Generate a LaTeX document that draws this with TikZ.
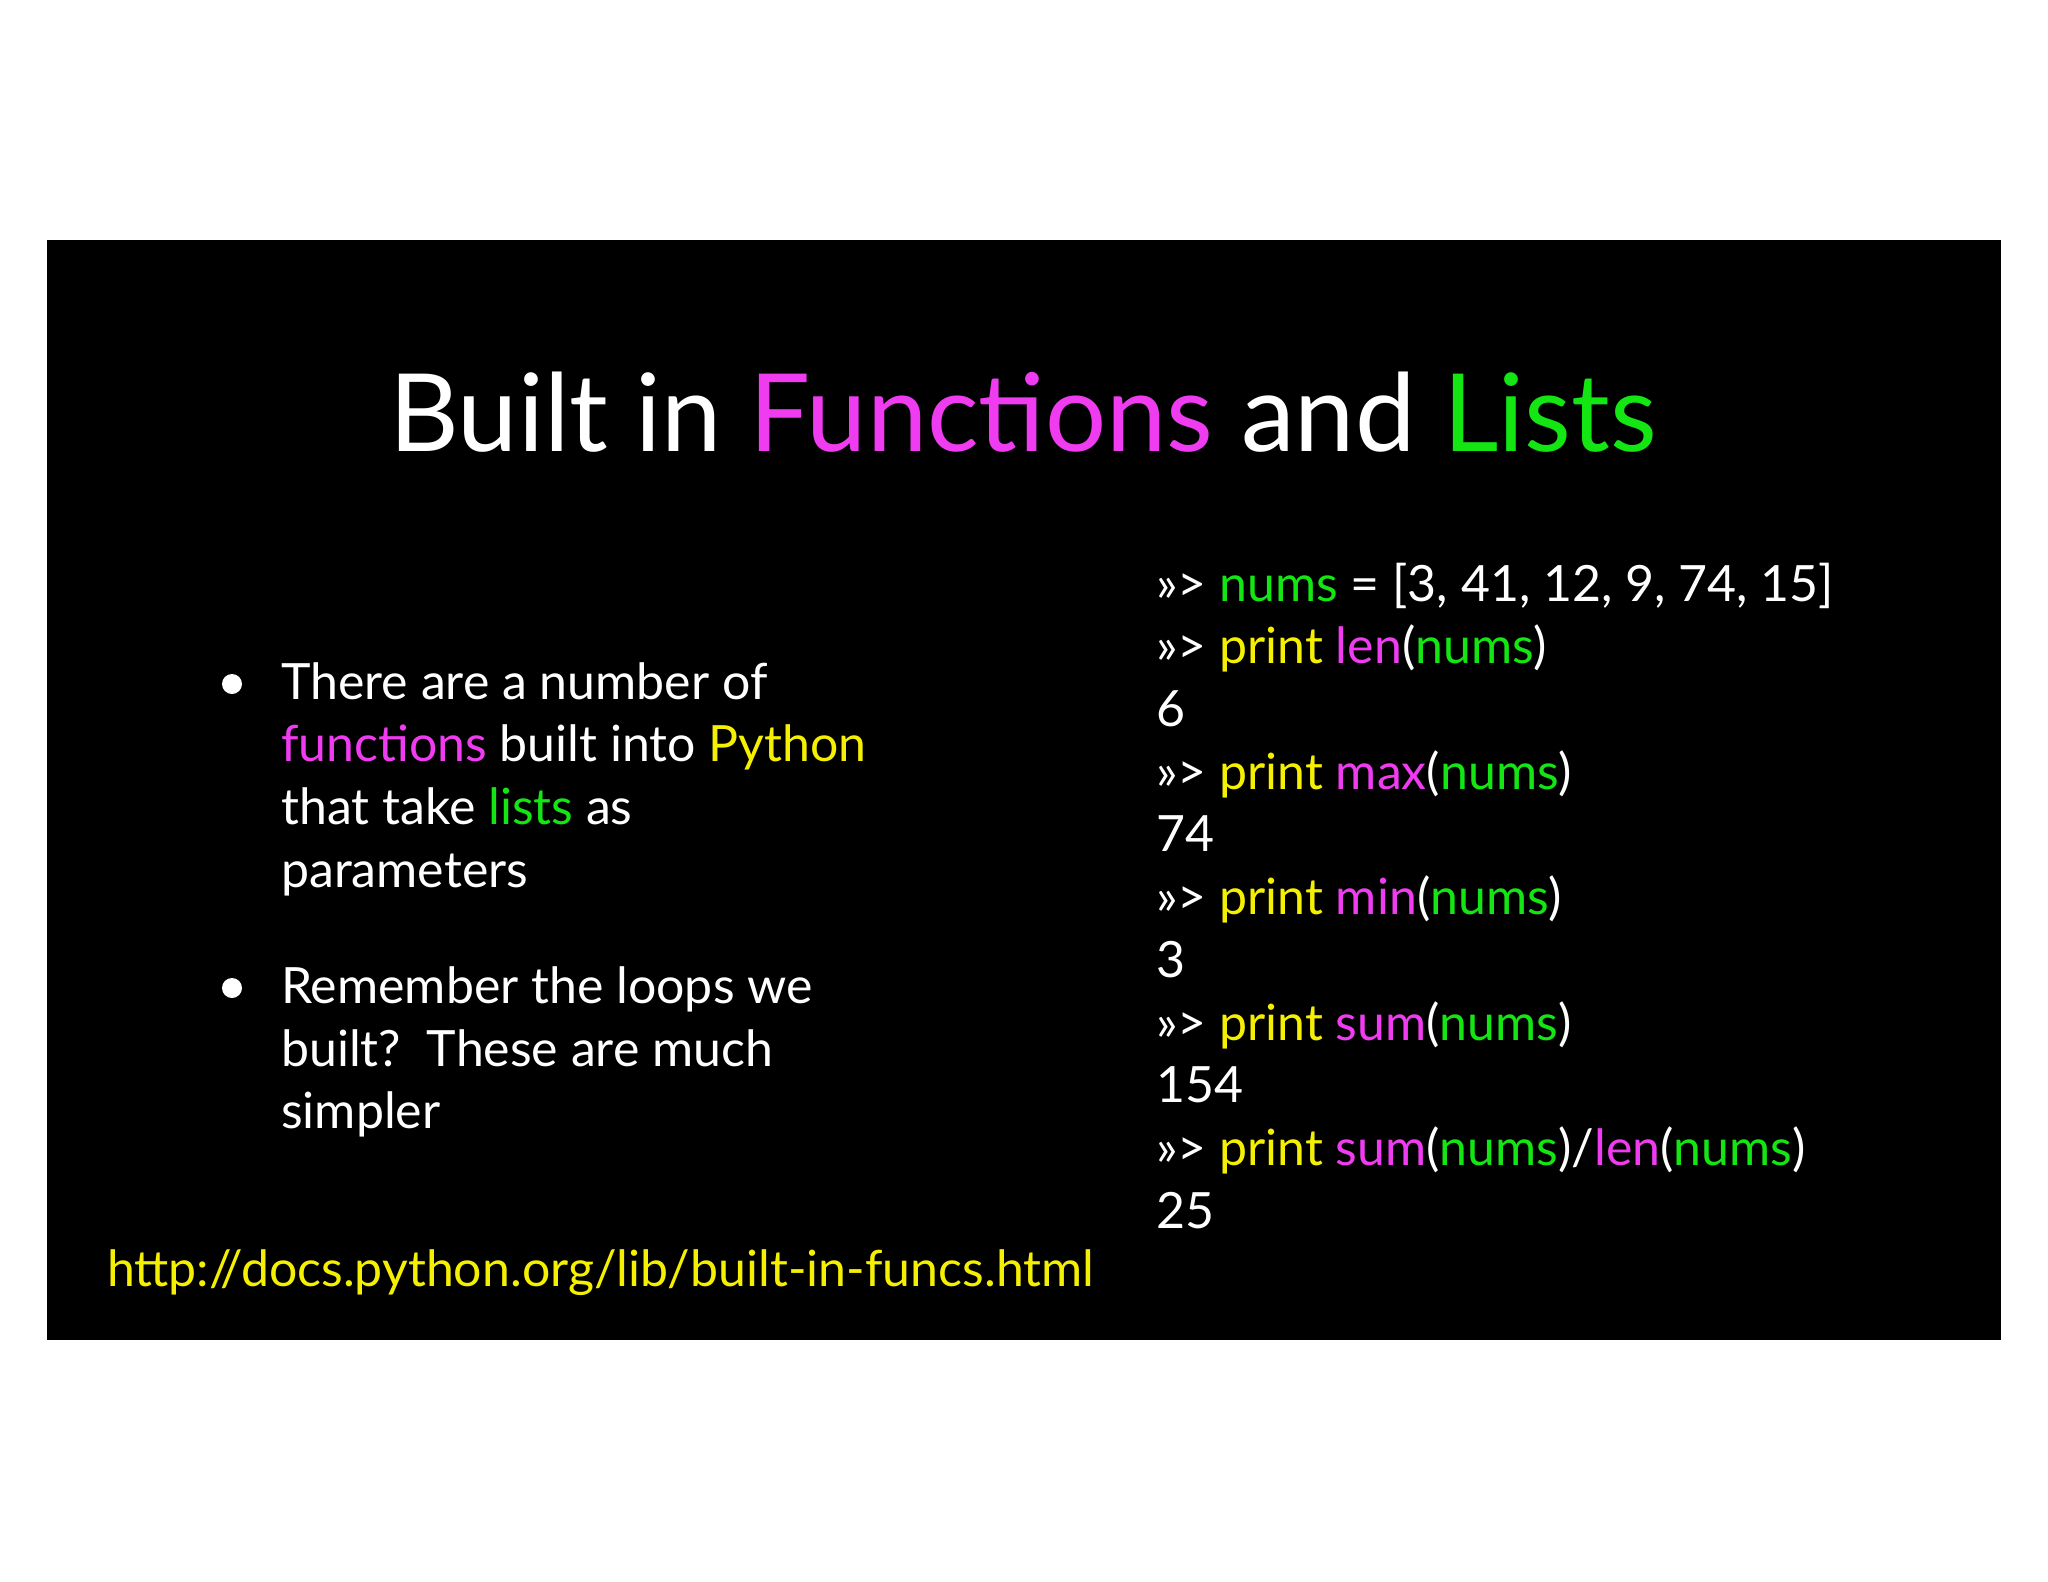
\documentclass[tikz,border=0pt]{standalone}
\usepackage{fontspec}
\setmainfont{Lato}
\definecolor{mag}{RGB}{240,60,240}
\definecolor{grn}{RGB}{20,230,20}
\definecolor{yel}{RGB}{245,240,0}
\newcommand{\M}[1]{\textcolor{mag}{#1}}
\newcommand{\G}[1]{\textcolor{grn}{#1}}
\newcommand{\Y}[1]{\textcolor{yel}{#1}}
\begin{document}
\begin{tikzpicture}[x=1pt,y=-1pt,
  txt/.style={anchor=base west,inner sep=0,text=white,font=\fontsize{50}{62}\selectfont},
  dot/.style={circle,fill=white,inner sep=0,minimum size=20}]
\useasboundingbox (0,0) rectangle (2048,1582);
\fill[black] (47,240) rectangle (2001,1340);
\node[anchor=base,inner sep=0,text=white,font=\fontsize{108}{120}\selectfont] (title) at (1023,451) {Built in \M{Functions} and \G{Lists}};
\node[dot] (b1) at (232,684) {};
\node[dot] (b2) at (232,988) {};
\node[txt] (l1) at (281,699) {There are a number of};
\node[txt] (l2) at (281,761) {\M{functions} built into \Y{Python}};
\node[txt] (l3) at (281,824) {that take \G{lists} as};
\node[txt] (l4) at (281,887) {parameters};
\node[txt] (m1) at (281,1003) {Remember the loops we};
\node[txt] (m2) at (281,1066) {built?\ \ These are much};
\node[txt] (m3) at (281,1128) {simpler};
\node[txt,text=yel] (url) at (107,1286) {http://docs.python.org/lib/built-in-funcs.html};
\node[txt] (c1) at (1156,601) {>>> \G{nums} = [3, 41, 12, 9, 74, 15]};
\node[txt] (c2) at (1156,663) {>>> \Y{print} \M{len}(\G{nums})};
\node[txt] (c3) at (1156,726) {6};
\node[txt] (c4) at (1156,789) {>>> \Y{print} \M{max}(\G{nums})};
\node[txt] (c5) at (1156,851) {74};
\node[txt] (c6) at (1156,914) {>>> \Y{print} \M{min}(\G{nums})};
\node[txt] (c7) at (1156,977) {3};
\node[txt] (c8) at (1156,1040) {>>> \Y{print} \M{sum}(\G{nums})};
\node[txt] (c9) at (1156,1102) {154};
\node[txt] (c10) at (1156,1165) {>>> \Y{print} \M{sum}(\G{nums})/\M{len}(\G{nums})};
\node[txt] (c11) at (1156,1228) {25};
\end{tikzpicture}
\end{document}
